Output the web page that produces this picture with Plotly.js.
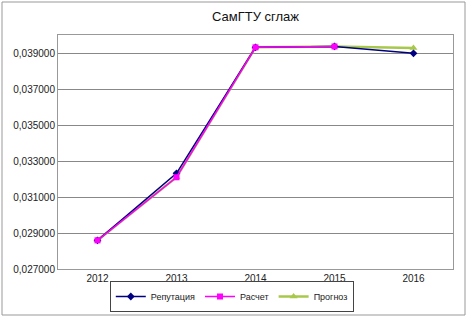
<!DOCTYPE html>
<html><head><meta charset="utf-8">
<script src="https://cdn.plot.ly/plotly-3.0.1.min.js"></script>
<style>body{margin:0;background:#fff}#c{width:467px;height:319px}</style>
</head><body><div id="c"></div>
<script>
const years = ['2012','2013','2014','2015','2016'];
const reputation = [0.02860, 0.03234, 0.03937, 0.03942, 0.03904];
const raschet = [0.02860, 0.03212, 0.03937, 0.03942, null];
const prognoz = [0.02860, 0.03212, 0.03937, 0.03942, 0.03933];
const yTicks = [0.027, 0.029, 0.031, 0.033, 0.035, 0.037, 0.039];

const traces = [
  {x: years, y: prognoz, name: 'Прогноз', mode: 'lines+markers', legendrank: 3,
   line: {color: '#a8c84a', width: 2.5}, marker: {symbol: 'triangle-up', size: 7, color: '#a8c84a'}},
  {x: years, y: reputation, name: 'Репутация', mode: 'lines+markers', legendrank: 1,
   line: {color: '#000080', width: 1.5}, marker: {symbol: 'diamond', size: 6, color: '#000080'}},
  {x: years, y: raschet, name: 'Расчет', mode: 'lines+markers', legendrank: 2,
   line: {color: '#ff00ff', width: 1.5}, marker: {symbol: 'square', size: 6, color: '#ff00ff'}}
];

const layout = {
  width: 467, height: 319,
  margin: {l: 58, r: 14, t: 35, b: 50, autoexpand: false},
  separators: ', ',
  paper_bgcolor: '#fff', plot_bgcolor: '#fff',
  font: {family: 'Liberation Sans, Arial, sans-serif', size: 10, color: '#222'},
  title: {text: 'СамГТУ сглаж', x: 0.5, xref: 'paper', xanchor: 'center', y: 0.95, yanchor: 'middle', font: {size: 13, color: '#111'}},
  xaxis: {type: 'category', range: [-0.5, 4.5], showgrid: false, zeroline: false,
          showline: true, linecolor: '#999', mirror: true, ticks: '', ticklen: 0, tickfont: {size: 10}},
  yaxis: {range: [0.027, 0.04006], tickvals: yTicks, tickformat: '.6f', showgrid: true, gridcolor: '#888', gridwidth: 1,
          zeroline: false, showline: true, linecolor: '#999', mirror: true, ticks: '', tickfont: {size: 10}},
  showlegend: true,
  legend: {orientation: 'h', x: 0.44, xanchor: 'center', y: -(312-269)/234, yanchor: 'bottom',
           bordercolor: '#444', borderwidth: 1, font: {size: 9}, traceorder: 'normal',
           itemwidth: 30, tracegroupgap: 0},
  shapes: [{type: 'rect', xref: 'paper', yref: 'paper',
            x0: (2-58)/395, x1: (465-58)/395, y0: -(315-269)/234, y1: 1 + (35-2)/234,
            line: {color: '#999', width: 1}}]
};
Plotly.newPlot('c', traces, layout, {displayModeBar: false, staticPlot: true});
</script></body></html>
